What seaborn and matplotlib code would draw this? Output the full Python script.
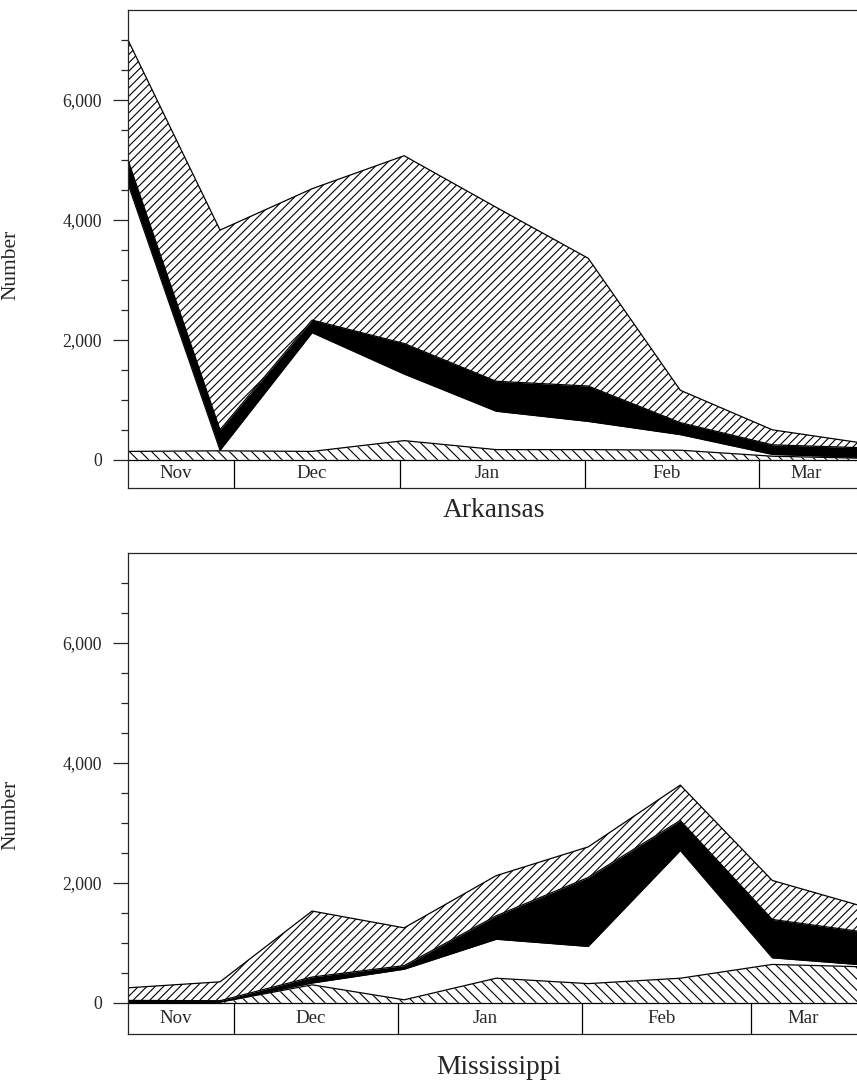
import numpy as np
import seaborn as sns
import matplotlib.pyplot as plt
import matplotlib.transforms as mtrans
from matplotlib.ticker import FuncFormatter

# Data ------------------------------------------------------------------------
samples = np.arange(9)                      # equally spaced sampling periods
months = ['Nov', 'Dec', 'Jan', 'Feb', 'Mar']
ar_edges = [0, 1.15, 2.95, 4.97, 6.85, 8.0]  # month box limits, sample units
ms_edges = [0, 1.15, 2.93, 4.93, 6.77, 8.0]

# Arkansas, stacked from the bottom up
ar_low = [140, 150, 140, 320, 170, 170, 160, 60, 25]          # back hatch
ar_open = [4460, 10, 1980, 1110, 640, 470, 260, 30, 15]       # white
ar_solid = [400, 340, 210, 510, 500, 590, 200, 160, 160]      # black
ar_top = [2000, 3330, 2190, 3130, 2900, 2130, 540, 250, 75]   # fwd hatch

# Mississippi
ms_low = [0, 10, 300, 50, 410, 320, 410, 640, 600]
ms_open = [0, 5, 30, 510, 650, 620, 2130, 110, 30]
ms_solid = [40, 20, 100, 60, 390, 1150, 500, 640, 550]
ms_top = [210, 315, 1100, 630, 670, 510, 590, 650, 420]

# Style -----------------------------------------------------------------------
sns.set_style('ticks')
plt.rcParams['font.family'] = ['Liberation Serif', 'DejaVu Serif']
plt.rcParams['hatch.linewidth'] = 0.4
LW = 0.45
FILLS = [('white', '\\' * 6), ('white', None), ('black', None),
         ('white', '/' * 8)]


def panel(ax, layers, edges, box_h, label_y):
    tops = np.cumsum(np.array(layers, dtype=float), axis=0)
    bottoms = np.vstack([np.zeros(len(samples)), tops[:-1]])
    for (face, hatch), lo, hi in zip(FILLS, bottoms, tops):
        ax.fill_between(samples, lo, hi, facecolor=face, edgecolor='black',
                        hatch=hatch, linewidth=0)
    for hi in tops:
        sns.lineplot(x=samples, y=hi, color='black', linewidth=LW, ax=ax)
    # month boxes under the zero line
    ax.axhline(0, color='black', linewidth=LW)
    ax.vlines(edges[1:-1], -box_h, 0, colors='black', linewidth=LW)
    shift = mtrans.offset_copy(ax.transData, fig=ax.figure, x=-1.8, y=0,
                               units='points')
    for m, a, b in zip(months, edges[:-1], edges[1:]):
        ax.text((a + b) / 2, -box_h / 2, m, ha='center', va='center',
                fontsize=6.8, transform=shift)
    ax.set_xlim(0, 7.92)
    ax.set_ylim(-box_h, 7500)
    ax.set_xticks([])
    ax.set_yticks([0, 2000, 4000, 6000])
    ax.set_yticks(np.arange(0, 7500, 500), minor=True)
    ax.yaxis.set_major_formatter(FuncFormatter(lambda v, p: f'{v:,.0f}'))
    ax.tick_params(axis='y', which='major', length=5.4, width=LW, pad=4,
                   labelsize=6.4, direction='out')
    ax.tick_params(axis='y', which='minor', length=2.5, width=LW,
                   direction='out')
    ax.spines['right'].set_visible(False)
    for s in ('left', 'top', 'bottom'):
        ax.spines[s].set_linewidth(LW)
    ax.set_xlabel('')
    ax.set_ylabel('Number', fontsize=7.7)
    ax.yaxis.set_label_coords(-0.147, label_y)


fig = plt.figure(figsize=(8.57 / 2, 10.9 / 2), dpi=200)
ax1 = fig.add_axes([128 / 857, 1 - 488 / 1090, 729 / 857, 478 / 1090])
ax2 = fig.add_axes([128 / 857, 1 - 1034 / 1090, 729 / 857, 481 / 1090])

panel(ax1, [ar_low, ar_open, ar_solid, ar_top], ar_edges, 470, 0.467)
panel(ax2, [ms_low, ms_open, ms_solid, ms_top], ms_edges, 520, 0.455)

fig.text(494 / 857, 1 - 510 / 1090, 'Arkansas', ha='center', va='center',
         fontsize=9.9)
fig.text(499 / 857, 1 - 1068 / 1090, 'Mississippi', ha='center',
         va='center', fontsize=9.9)

fig.savefig('out.png', dpi=200)
